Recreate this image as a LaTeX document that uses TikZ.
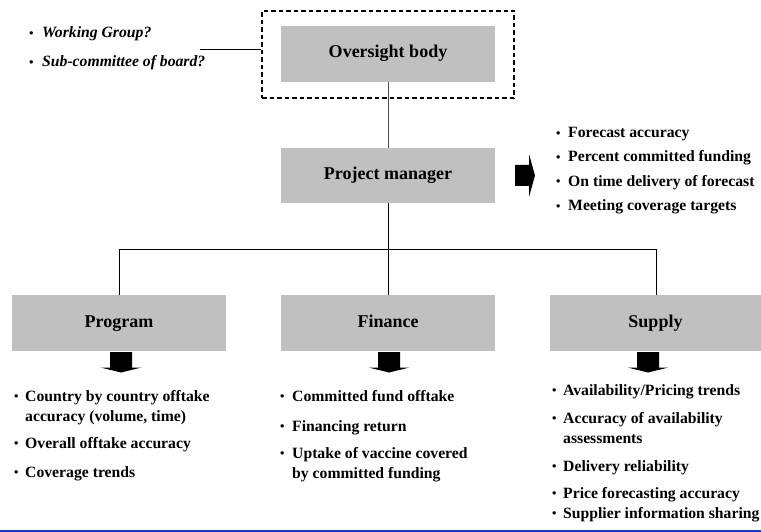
\documentclass[tikz,border=0pt]{standalone}
\usepackage{fontspec}
\setmainfont{Liberation Serif}
\begin{document}
\begin{tikzpicture}[x=1pt,y=-1pt,
  box/.style={fill=boxgray,draw=none,minimum width=214pt,minimum height=56pt,
    inner sep=0pt,text height=12pt,text depth=4pt,
    font=\fontsize{18}{20}\selectfont\bfseries},
  conn/.style={draw=black,line width=1pt},
  frame/.style={draw=black,line width=1.4pt,dash pattern=on 4.5pt off 3pt},
  lst/.style={anchor=base west,inner sep=0pt,align=left,
    font=\fontsize{15.7}{20}\selectfont\bfseries},
  blockarrow/.style={fill=black,draw=none}]
\definecolor{boxgray}{RGB}{192,192,192}
\definecolor{rule}{RGB}{20,60,210}
% small bullet followed by a fixed gap
\newcommand{\dotmark}[1]{\makebox[#1][l]{\raisebox{0.3pt}{\fontsize{12.5}{12}\selectfont\textbullet}}}
\newcommand{\bl}[2][11pt]{\begin{tabular}[t]{@{}l@{}l@{}}\dotmark{#1} & #2\end{tabular}}
\useasboundingbox (0,0) rectangle (761,532);

% top level
\node[box] (over) at (388,54) {Oversight body};
\node[frame,minimum width=252pt,minimum height=87pt,inner sep=0pt] (frm) at (388,54.5) {};
\node[box,minimum height=55pt] (pm) at (388,175.5) {Project manager};

% three functions
\node[box] (prog) at (119,323) {Program};
\node[box] (fin) at (388,323) {Finance};
\node[box,minimum width=211pt] (sup) at (655.5,323) {Supply};

% candidate oversight bodies
\node[lst,font=\fontsize{15.7}{29}\selectfont\bfseries\itshape] (cand) at (29,38)
  {\begin{tabular}[t]{@{}l@{}l@{}}\dotmark{13pt} & Working Group?\\ \dotmark{13pt} & Sub-committee of board?\end{tabular}};
\coordinate (candend) at (200,50);
\draw[conn] (candend) -- (candend -| frm.west);

% tree connectors
\draw[draw=black!70,line width=1pt] (over.south) -- (pm.north);
\coordinate (hub) at (388,249);
\draw[conn] (pm.south) -- (hub);
\draw[conn] (prog.north) -- (prog.north |- hub) -- (656,249) coordinate (hubr) -- (hubr |- sup.north);
\draw[conn] (hub) -- (fin.north);

% block arrows
\fill[blockarrow] (515,165) -- (529,165) -- (529,154) -- (535,175.5) -- (529,197) -- (529,186) -- (515,186) -- cycle;
\foreach \cx in {121,389,648}{
  \fill[blockarrow] (\cx-11,352) -- (\cx+11,352) -- (\cx+11,367.5) -- (\cx+20.5,367.5)
    -- (\cx,372.5) -- (\cx-20.5,367.5) -- (\cx-11,367.5) -- cycle;
}

% project manager measures
\node[lst] (m1) at (556,138) {\bl[12pt]{Forecast accuracy}};
\node[lst] (m2) at (556,162) {\bl[12pt]{Percent committed funding}};
\node[lst] (m3) at (556,186) {\bl[12pt]{On time delivery of forecast}};
\node[lst] (m4) at (556,211) {\bl[12pt]{Meeting coverage targets}};

% program measures
\node[lst] (p1) at (14,401) {\bl{Country by country offtake\\ & accuracy (volume, time)}};
\node[lst] (p2) at (14,448) {\bl{Overall offtake accuracy}};
\node[lst] (p3) at (14,477) {\bl{Coverage trends}};

% finance measures
\node[lst] (f1) at (280,401) {\bl[12pt]{Committed fund offtake}};
\node[lst] (f2) at (280,431) {\bl[12pt]{Financing return}};
\node[lst] (f3) at (280,458) {\bl[12pt]{Uptake of vaccine covered\\ & by committed funding}};

% supply measures
\node[lst] (s1) at (552,395) {\bl{Availability/Pricing trends}};
\node[lst] (s2) at (552,423) {\bl{Accuracy of availability\\ & assessments}};
\node[lst] (s3) at (552,471) {\bl{Delivery reliability}};
\node[lst] (s4) at (552,498) {\bl{Price forecasting accuracy}};
\node[lst] (s5) at (552,518) {\bl{Supplier information sharing}};

% footer rule
\fill[rule] (0,529.5) rectangle (761,532);
\end{tikzpicture}
\end{document}
